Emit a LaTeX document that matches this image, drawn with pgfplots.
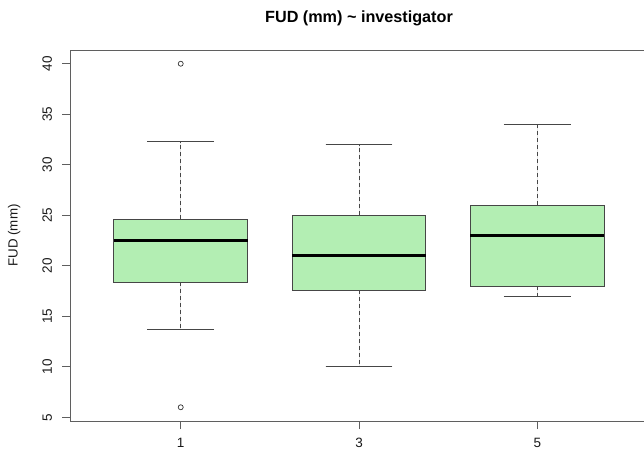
\documentclass[border=0pt]{standalone}
\usepackage{pgfplots}
\pgfplotsset{compat=1.18}
\usepgfplotslibrary{statistics}
\usepackage{fontspec}
\setmainfont{Liberation Sans}
\definecolor{boxfill}{RGB}{179,238,179}
\definecolor{framegray}{RGB}{95,95,95}
\definecolor{boxline}{RGB}{70,70,70}
\begin{document}
\begin{tikzpicture}[x=1pt,y=1pt]
\begin{axis}[
  at={(70.2pt,29pt)}, anchor=south west,
  scale only axis, width=577.6pt, height=371pt,
  xmin=0.38, xmax=3.62, ymin=4.64, ymax=41.36,
  xtick={1,2,3}, xticklabels={1,3,5},
  ytick={5,10,15,20,25,30,35,40},
  xtick pos=bottom, ytick pos=left,
  tick align=outside, major tick length=8pt,
  axis line style={framegray, line width=0.8pt},
  tick style={framegray, line width=0.8pt},
  ticklabel style={font=\fontsize{13.5}{15}\selectfont, text=black!90, inner sep=0pt},
  /pgf/number format/assume math mode=true,
  xticklabel style={anchor=base},
  xticklabel shift=18pt,
  yticklabel style={rotate=90, anchor=south},
  yticklabel shift=10pt,
  title={\bfseries FUD (mm) \textasciitilde{} investigator},
  title style={at={(axis description cs:0.5,1)}, anchor=base, yshift=21.3pt, font=\fontsize{16.2}{18}\selectfont},
  ylabel={FUD (mm)},
  ylabel style={at={([xshift=-52.5pt]axis description cs:0,0.5)}, anchor=base, font=\fontsize{13.3}{15}\selectfont, text=black!90},
  boxplot/draw direction=y,
  boxplot/box extend=0.75,
  boxplot/whisker extend=0.375,
  boxplot/every median/.style={black, line width=2.8pt},
  boxplot/draw/lower whisker/.code={%
    \draw[boxline, line width=0.8pt, dash pattern=on 4pt off 3pt]
      (boxplot cs:\pgfplotsboxplotvalue{lower quartile}) -- (boxplot cs:\pgfplotsboxplotvalue{lower whisker});
    \draw[boxline, line width=0.8pt]
      (boxplot whisker cs:\pgfplotsboxplotvalue{lower whisker},0) -- (boxplot whisker cs:\pgfplotsboxplotvalue{lower whisker},1);
  },
  boxplot/draw/upper whisker/.code={%
    \draw[boxline, line width=0.8pt, dash pattern=on 4pt off 3pt]
      (boxplot cs:\pgfplotsboxplotvalue{upper quartile}) -- (boxplot cs:\pgfplotsboxplotvalue{upper whisker});
    \draw[boxline, line width=0.8pt]
      (boxplot whisker cs:\pgfplotsboxplotvalue{upper whisker},0) -- (boxplot whisker cs:\pgfplotsboxplotvalue{upper whisker},1);
  },
]
\addplot[boxplot prepared={draw position=1, lower whisker=13.7, lower quartile=18.4,
  median=22.5, upper quartile=24.6, upper whisker=32.3},
  fill=boxfill, draw=boxline, line width=0.8pt,
  mark=o, mark size=2.5pt, mark options={solid, fill=none, draw=black!80, line width=0.7pt}]
  coordinates {(0,40) (0,6)};
\addplot[boxplot prepared={draw position=2, lower whisker=10, lower quartile=17.6,
  median=21, upper quartile=25, upper whisker=32},
  fill=boxfill, draw=boxline, line width=0.8pt]
  coordinates {};
\addplot[boxplot prepared={draw position=3, lower whisker=17, lower quartile=18,
  median=23, upper quartile=26, upper whisker=34},
  fill=boxfill, draw=boxline, line width=0.8pt]
  coordinates {};
\end{axis}
\pgfresetboundingbox
\useasboundingbox (0,0) rectangle (644,450);
\end{tikzpicture}
\end{document}
